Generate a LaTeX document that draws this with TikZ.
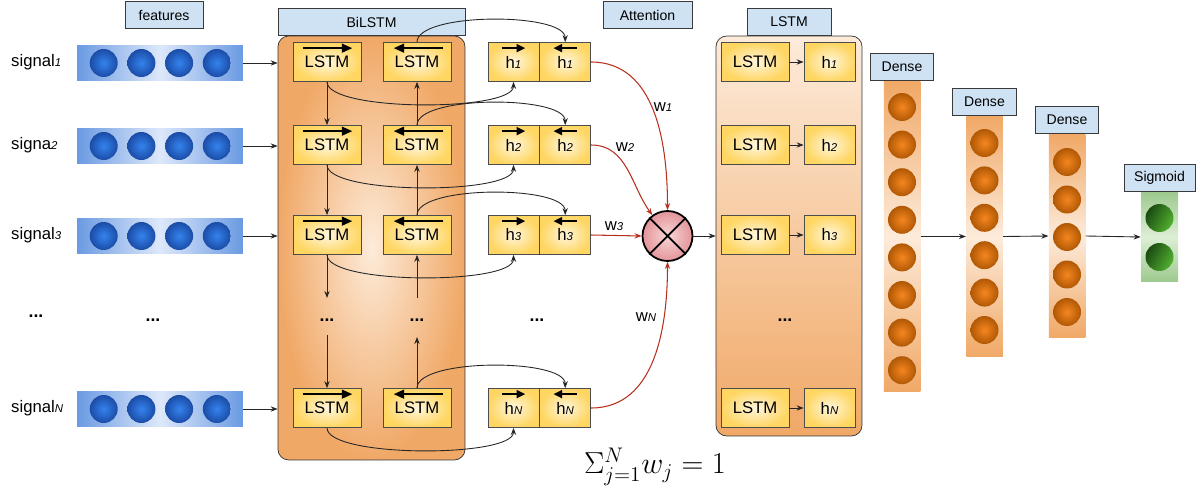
\documentclass[tikz,border=0pt]{standalone}
\usepackage[no-math]{fontspec}
\setmainfont{Liberation Sans}
\usepackage{amsmath}
\usepackage{tikz}
\usetikzlibrary{arrows.meta,positioning,calc}

\definecolor{tagblue}{HTML}{CFE2F3}
\definecolor{tagline}{HTML}{3A3A3A}
\definecolor{cellyel}{HTML}{FFD662}
\definecolor{cellpale}{HTML}{FFF6DC}
\definecolor{peach}{HTML}{FDEBDA}
\definecolor{orng}{HTML}{F0A866}
\definecolor{featblue}{HTML}{6A9AE2}
\definecolor{featpale}{HTML}{DDE8FA}
\definecolor{ballblue}{HTML}{3483EE}
\definecolor{balldark}{HTML}{1B4CA6}
\definecolor{ballorng}{HTML}{F5861F}
\definecolor{ballbrown}{HTML}{B05805}
\definecolor{ballgreen}{HTML}{52B030}
\definecolor{balldkgreen}{HTML}{1A4A12}
\definecolor{sigmgreen}{HTML}{9DC98D}
\definecolor{sigmpale}{HTML}{DDEED5}
\definecolor{multpink}{HTML}{E3959A}
\definecolor{multpale}{HTML}{F8D6D6}
\definecolor{attred}{HTML}{B8301E}

\newcommand{\ix}[1]{{\fontsize{6.5}{7}\selectfont\itshape #1}}

\begin{document}
\begin{tikzpicture}[x=0.02cm,y=-0.02cm,>={Stealth[length=4pt,width=3pt]},
  every node/.style={font=\fontsize{9.5}{11}\selectfont},
  tag/.style={draw=tagline,fill=tagblue,minimum height=0.53cm,inner sep=1pt,
    font=\fontsize{8}{9}\selectfont},
  cell/.style={draw=black!70,inner color=cellpale,outer color=cellyel,
    minimum height=0.78cm,inner sep=0pt},
  lstmcell/.style={cell,minimum width=1.36cm},
  hcell/.style={cell,minimum width=1.02cm},
  featbar/.style={left color=featblue,right color=featblue,middle color=featpale,
    minimum width=3.32cm,minimum height=0.72cm,inner sep=0pt},
  densebar/.style={top color=orng,bottom color=orng,middle color=peach,
    minimum width=0.73cm,inner sep=0pt},
  ball/.style={circle,minimum size=0.56cm,inner sep=0pt},
  blueball/.style={ball,inner color=ballblue,outer color=balldark},
  orngball/.style={ball,inner color=ballorng,outer color=ballbrown},
  greenball/.style={ball,left color=balldkgreen,right color=ballgreen,shading angle=60},
  link/.style={->,black!85,line width=0.5pt},
  attn/.style={->,attred,line width=0.6pt},
  flowmark/.style={-{Triangle[length=6pt,width=5pt]},line width=1.2pt},
  ]
  \useasboundingbox (0,0) rectangle (1203,493);

  % containers and their tags
  \node[draw=black!80,rounded corners=6pt,inner color=peach,outer color=orng,
    minimum width=3.74cm,minimum height=8.48cm] (bil) at (371.5,248) {};
  \node[tag,minimum width=3.74cm,anchor=south] (biltag) at (bil.north) {BiLSTM};
  \node[draw=black!80,rounded corners=6pt,top color=peach,bottom color=orng,
    minimum width=2.92cm,minimum height=8cm] (seq) at (789,236) {};
  \node[tag,minimum width=1.68cm,anchor=south] (seqtag) at (seq.north) {LSTM};
  \node[tag,minimum width=1.56cm] (feattag) at (164,15) {features};
  \node[tag,minimum width=1.78cm] (atttag) at (647.5,15) {Attention};

  % one row per signal
  \foreach \r/\y/\nm/\k in {1/62/signal/1,2/145/signa/2,3/235/signal/3,4/408/signal/N}{
    \node[anchor=west] (sig\r) at (5,\y) {\nm\ix{\k}};
    \node[featbar] (feat\r) at (160,\y+1) {};
    \foreach \c in {1,...,4}
      \node[blueball] (feat\r-\c) at (66+37.7*\c,\y+1) {};
    \draw[link] (feat\r.east) -- (feat\r.east -| bil.west);
    \node[lstmcell] (fw\r) at (327,\y) {LSTM};
    \node[lstmcell] (bw\r) at (417,\y) {LSTM};
    \node[hcell] (hf\r) at (513.5,\y) {h\ix{\k}};
    \node[hcell,right=0pt of hf\r] (hb\r) {h\ix{\k}};
    \draw[flowmark] ($(fw\r.north west)+(10,6)$) -- ($(fw\r.north east)+(-9,6)$);
    \draw[flowmark] ($(bw\r.north east)+(-8,6)$) -- ($(bw\r.north west)+(11,6)$);
    \draw[flowmark,-{Triangle[length=5pt,width=4.5pt]}]
      ($(hf\r.north west)+(14,6)$) -- ($(hf\r.north east)+(-14,6)$);
    \draw[flowmark,-{Triangle[length=5pt,width=4.5pt]}]
      ($(hb\r.north east)+(-14,6)$) -- ($(hb\r.north west)+(14,6)$);
    \draw[link] (fw\r.south) .. controls +(0,30) and +(0,30) .. (hf\r.south);
    \draw[link] (bw\r.north) .. controls +(0,-30) and +(0,-30) .. (hb\r.north);
    \node[lstmcell] (lc\r) at (755,\y) {LSTM};
    \node[hcell] (lh\r) at (829.5,\y) {h\ix{\k}};
    \draw[link] (lc\r) -- (lh\r);
  }

  % skipped rows
  \node[font=\bfseries] (dsig) at (36,316) {...};
  \node[font=\bfseries] (dfeat) at (153,320) {...};
  \node[font=\bfseries] (dfw) at (327,320) {...};
  \node[font=\bfseries] (dbw) at (417,320) {...};
  \node[font=\bfseries] (dh) at (537,320) {...};
  \node[font=\bfseries] (dseq) at (785,320) {...};
  \coordinate (fwout) at (327,298);
  \coordinate (fwin) at (327,335);
  \coordinate (bwin) at (417,298);
  \coordinate (bwout) at (417,337);

  % recurrent links
  \draw[link] (fw1) -- (fw2);
  \draw[link] (fw2) -- (fw3);
  \draw[link] (fw3) -- (fwout);
  \draw[link] (fwin) -- (fw4);
  \draw[link] (bw2) -- (bw1);
  \draw[link] (bw3) -- (bw2);
  \draw[link] (bwin) -- (bw3);
  \draw[link] (bw4) -- (bwout);

  % attention
  \node[circle,draw=black,line width=1pt,inner color=multpale,outer color=multpink,
    minimum size=1cm] (mult) at (667.5,236) {};
  \draw[line width=1pt] (mult.45) -- (mult.225) (mult.135) -- (mult.-45);
  \draw[attn] (hb1.east) to[out=0,in=90] (mult.north);
  \draw[attn] (hb2.east) to[out=0,in=126] (mult.126);
  \draw[attn] (hb3.east) -- (mult.west);
  \draw[attn] (hb4.east) to[out=0,in=-90] (mult.south);
  \node (w1) at (663,107) {w\ix{1}};
  \node (w2) at (625,147) {w\ix{2}};
  \node (w3) at (614,226) {w\ix{3}};
  \node (wN) at (646,317) {w\ix{N}};
  \draw[link] (mult.east) -- (mult.east -| seq.west);
  \node[font=\fontsize{17}{20}\selectfont] (norm) at (655,467) {$\Sigma_{j=1}^{N} w_j = 1$};

  % dense layers and output
  \node[densebar,minimum height=6.22cm] (dn1) at (902,236.5) {};
  \node[tag,minimum width=1.26cm,anchor=south] (dn1tag) at (dn1.north) {Dense};
  \foreach \c in {0,...,7}
    \node[orngball] (dn1-\c) at (902,107+37.6*\c) {};
  \node[densebar,minimum height=4.82cm] (dn2) at (984.5,236.5) {};
  \node[tag,minimum width=1.28cm,anchor=south] (dn2tag) at (dn2.north) {Dense};
  \foreach \c in {0,...,5}
    \node[orngball] (dn2-\c) at (984.5,143+37.4*\c) {};
  \node[densebar,minimum height=4.08cm] (dn3) at (1067,236) {};
  \node[tag,minimum width=1.26cm,anchor=south] (dn3tag) at (dn3.north) {Dense};
  \foreach \c in {0,...,4}
    \node[orngball] (dn3-\c) at (1067,162+37.5*\c) {};
  \node[top color=sigmgreen,bottom color=sigmgreen,middle color=sigmpale,
    minimum width=0.74cm,minimum height=1.8cm,inner sep=0pt] (out) at (1159.5,237) {};
  \node[tag,minimum width=1.42cm,anchor=south] (outtag) at (out.north) {Sigmoid};
  \node[greenball] (out-1) at (1159.5,218) {};
  \node[greenball] (out-2) at (1159.5,257) {};
  \draw[link] (dn1.east) -- (dn2.west);
  \draw[link] (dn2.east) -- (dn3.west);
  \draw[link] (dn3.east) -- (out.west);
\end{tikzpicture}
\end{document}
